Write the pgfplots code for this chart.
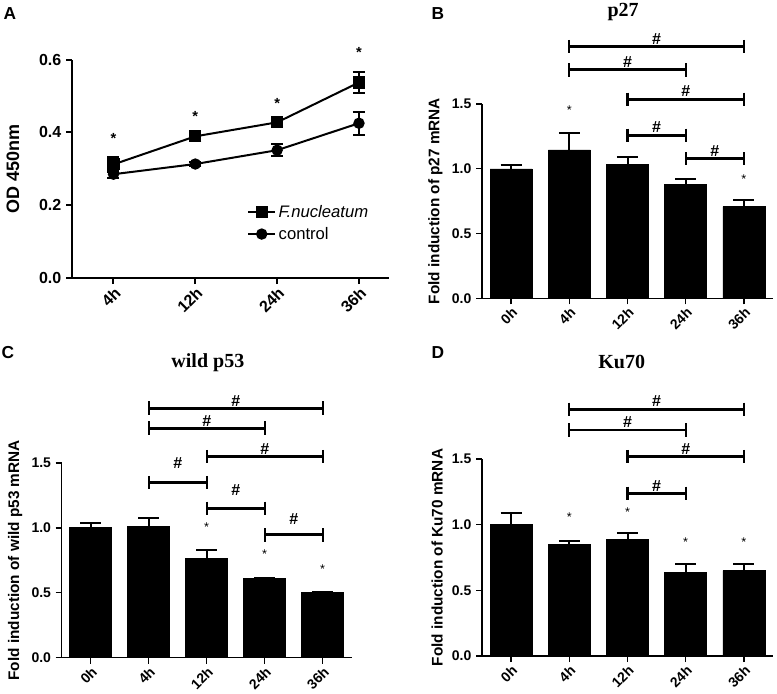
\documentclass[border=0pt]{standalone}
\usepackage{fontspec}
\setmainfont{Liberation Sans}
\newfontfamily\serif{Liberation Serif}
\usepackage{pgfplots}
\pgfplotsset{compat=1.18}

\tikzset{hash/.style={font=\fontsize{12}{13}\selectfont\bfseries, inner sep=0pt}}
\pgfplotsset{
  every axis title shift=0pt,
  panel/.style={
    scale only axis, anchor=south west,
    axis x line*=bottom, axis y line*=left,
    tick align=outside, major tick length=4.5pt,
    /pgf/number format/assume math mode=true,
    yticklabel style={/pgf/number format/fixed,/pgf/number format/fixed zerofill,/pgf/number format/precision=1},
    xticklabel style={rotate=45, anchor=north east, inner sep=1pt},
    clip=false, ymin=0,
  },
  barpanel/.style={panel,
    xmin=-0.5, xmax=4.5, ymax=1.5,
    xtick={0,...,4}, xticklabels={0h,4h,12h,24h,36h},
    ytick={0,0.5,1,1.5},
    axis line style={line width=1pt}, tick style={line width=1pt,black},
    ticklabel style={font=\fontsize{10.5}{12}\selectfont\bfseries},
    ylabel style={font=\fontsize{11.5}{13}\selectfont\bfseries},
    title style={font=\serif\fontsize{15}{17}\selectfont\bfseries, anchor=center},
  },
  bars/.style={ybar, bar width=31.5pt, fill=black, draw=black,
    error bars/.cd, y dir=plus, y explicit,
    error bar style={line width=1.5pt},
    error mark options={rotate=90, line width=1.5pt, mark size=7.9pt}},
  brk/.style={line width=2.2pt, mark=|, mark size=5pt, mark options={line width=1.6pt}},
  stars/.style={draw=none, nodes near coords, point meta=explicit symbolic,
    nodes near coords style={anchor=center, font=\fontsize{9.5}{10}\selectfont}},
}

\begin{document}
\begin{tikzpicture}
\path[use as bounding box] (0,0) rectangle (582.75pt,-519.75pt);

% A
\begin{axis}[panel, at={(54pt,-208.5pt)}, width=237.75pt, height=163.875pt,
  xmin=0.493, xmax=4.367, ymax=0.6,
  xtick={1,2,3,4}, xticklabels={4h,12h,24h,36h},
  ytick={0,0.2,0.4,0.6},
  axis line style={line width=1.5pt}, tick style={line width=1.5pt,black},
  ticklabel style={font=\fontsize{12}{13}\selectfont\bfseries},
  ylabel={OD 450nm}, ylabel style={font=\fontsize{13.5}{15}\selectfont\bfseries},
  ylabel shift=8pt,
  legend style={at={(0.54,0.36)}, anchor=north west, draw=none, fill=none,
    font=\fontsize{12.5}{15}\selectfont, row sep=2pt},
  legend image code/.code={\draw[mark repeat=2,mark phase=2] plot coordinates {(0cm,0cm) (0.35cm,0cm) (0.7cm,0cm)};},
  legend cell align=left]
\addplot[line width=1.5pt, mark=square*, mark size=3.8pt,
  error bars/.cd, y dir=both, y explicit, error bar style={line width=1.5pt},
  error mark options={rotate=90, line width=1.5pt, mark size=4.5pt}]
  coordinates {(1,0.312) +- (0,0.020) (2,0.389) +- (0,0.014) (3,0.4275) +- (0,0.009) (4,0.537) +- (0,0.028)};
\addplot[line width=1.5pt, mark=*, mark size=3.5pt,
  error bars/.cd, y dir=both, y explicit, error bar style={line width=1.5pt},
  error mark options={rotate=90, line width=1.5pt, mark size=4.5pt}]
  coordinates {(1,0.285) +- (0,0.010) (2,0.313) +- (0,0.005) (3,0.351) +- (0,0.016) (4,0.425) +- (0,0.031)};
\legend{\textit{F.nucleatum}, control}
\addplot[stars, forget plot, nodes near coords style={font=\fontsize{11}{12}\selectfont\bfseries}]
  coordinates {(1,0.384) [*] (2,0.443) [*] (3,0.479) [*] (4,0.620) [*]};
\end{axis}

% B
\begin{axis}[barpanel, at={(361.5pt,-223.73pt)}, width=218.25pt, height=145.73pt,
  ylabel={Fold induction of p27 mRNA},
  title={p27}, title style={at={(0.485,1.473)}}]
\addplot[bars] coordinates {(0,1.0) +- (0,0.03) (1,1.145) +- (0,0.135) (2,1.035) +- (0,0.058) (3,0.88) +- (0,0.041) (4,0.707) +- (0,0.05)};
\addplot[stars] coordinates {(1,1.454) [*] (4,0.921) [*]};
\addplot[brk] coordinates {(1,1.943) (4,1.943)} node[pos=0.5, hash, yshift=5.8pt] {\#};
\addplot[brk] coordinates {(1,1.763) (3,1.763)} node[pos=0.5, hash, yshift=5.8pt] {\#};
\addplot[brk] coordinates {(2,1.537) (4,1.537)} node[pos=0.5, hash, yshift=5.8pt] {\#};
\addplot[brk] coordinates {(2,1.259) (3,1.259)} node[pos=0.5, hash, yshift=5.8pt] {\#};
\addplot[brk] coordinates {(3,1.078) (4,1.078)} node[pos=0.5, hash, yshift=5.8pt] {\#};
\end{axis}

% C
\begin{axis}[barpanel, at={(46.28pt,-493.28pt)}, width=217.5pt, height=146pt,
  ylabel={Fold induction of wild p53 mRNA},
  title={wild p53}, title style={at={(0.504,1.514)}}]
\addplot[bars] coordinates {(0,1.002) +- (0,0.039) (1,1.01) +- (0,0.065) (2,0.763) +- (0,0.067) (3,0.614) +- (0,0.004) (4,0.501) +- (0,0.002)};
\addplot[stars] coordinates {(2,1.01) [*] (3,0.797) [*] (4,0.684) [*]};
\addplot[brk] coordinates {(1,1.923) (4,1.923)} node[pos=0.5, hash, yshift=5.2pt] {\#};
\addplot[brk] coordinates {(1,1.769) (3,1.769)} node[pos=0.5, hash, yshift=5.2pt] {\#};
\addplot[brk] coordinates {(2,1.55) (4,1.55)} node[pos=0.5, hash, yshift=5.6pt] {\#};
\addplot[brk] coordinates {(1,1.349) (2,1.349)} node[pos=0.5, hash, yshift=15pt] {\#};
\addplot[brk] coordinates {(2,1.152) (3,1.152)} node[pos=0.5, hash, yshift=13.7pt] {\#};
\addplot[brk] coordinates {(3,0.946) (4,0.946)} node[pos=0.5, hash, yshift=11.8pt] {\#};
\end{axis}

% D
\begin{axis}[barpanel, at={(361.5pt,-492pt)}, width=218.25pt, height=147.75pt,
  ylabel={Fold induction of Ku70 mRNA},
  title={Ku70}, title style={at={(0.48,1.492)}}]
\addplot[bars] coordinates {(0,1.003) +- (0,0.087) (1,0.85) +- (0,0.026) (2,0.889) +- (0,0.045) (3,0.637) +- (0,0.061) (4,0.65) +- (0,0.05)};
\addplot[stars] coordinates {(1,1.061) [*] (2,1.099) [*] (3,0.87) [*] (4,0.87) [*]};
\addplot[brk] coordinates {(1,1.879) (4,1.879)} node[pos=0.5, hash, yshift=5.8pt] {\#};
\addplot[brk] coordinates {(1,1.721) (3,1.721)} node[pos=0.5, hash, yshift=5.8pt] {\#};
\addplot[brk] coordinates {(2,1.518) (4,1.518)} node[pos=0.5, hash, yshift=5.8pt] {\#};
\addplot[brk] coordinates {(2,1.239) (3,1.239)} node[pos=0.5, hash, yshift=5.8pt] {\#};
\end{axis}

\node[font=\fontsize{13}{15}\selectfont\bfseries] at (7.5pt,-10.5pt) {A};
\node[font=\fontsize{13}{15}\selectfont\bfseries] at (328.5pt,-10.5pt) {B};
\node[font=\fontsize{13}{15}\selectfont\bfseries] at (6pt,-264.75pt) {C};
\node[font=\fontsize{13}{15}\selectfont\bfseries] at (328.5pt,-264.75pt) {D};
\end{tikzpicture}
\end{document}
